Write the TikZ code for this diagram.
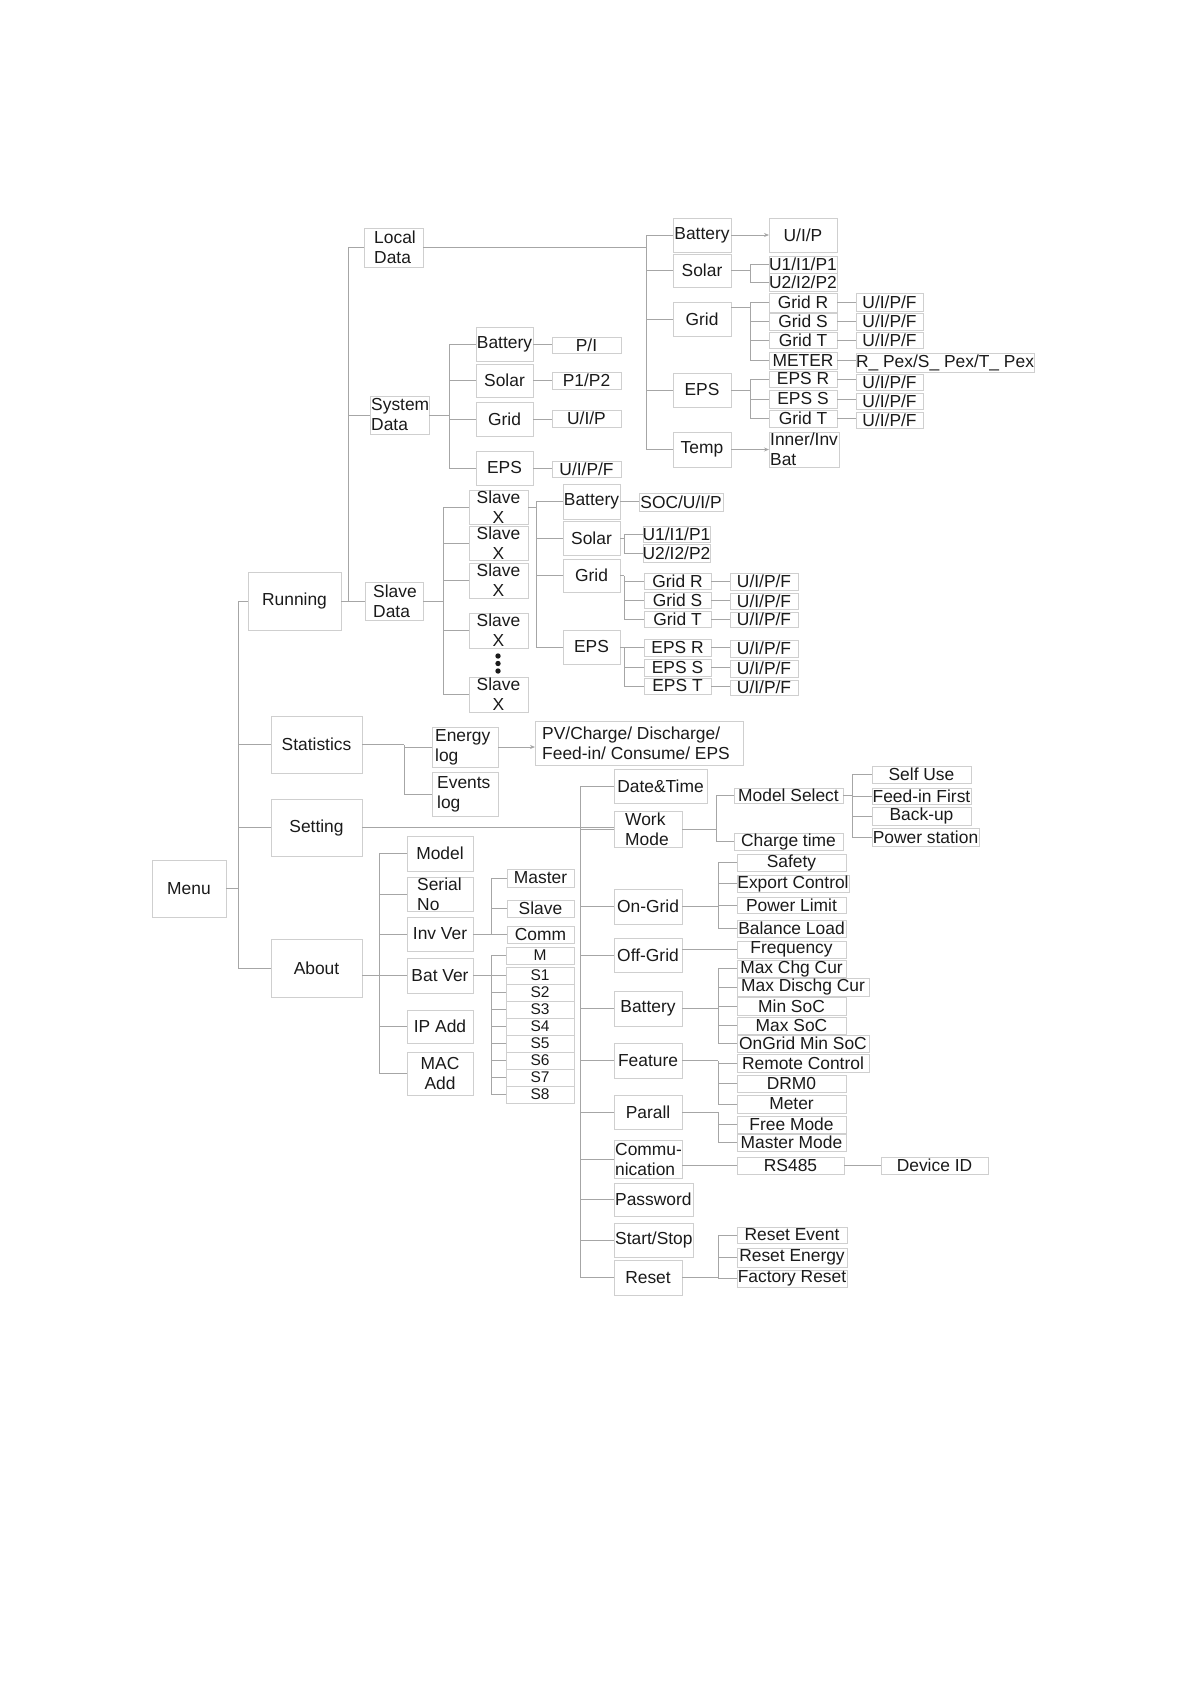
\documentclass[tikz,border=0pt]{standalone}
\usepackage{fontspec}
\setmainfont{Liberation Sans}
\usetikzlibrary{arrows.meta}
\definecolor{boxc}{HTML}{CFCFCF}
\definecolor{linec}{HTML}{A6A6A6}
\definecolor{txtc}{HTML}{1A1A1A}
\tikzset{
  boxst/.style={draw=boxc, line width=1pt, inner sep=0pt, outer sep=0pt},
  txt/.style={inner sep=0pt, text=txtc, font=\fontsize{17.4}{20}\selectfont},
  small/.style={font=\fontsize{15.5}{17}\selectfont},
  lft/.style={anchor=west, align=left, xshift={-0.5*\bxW+#1}},
  lft/.default=3pt,
  conn/.style={draw=linec, line width=1pt},
  arr/.style={conn, -{Stealth[length=5pt,width=4pt]}},
}
\newcommand\bx[7][]{%
  \pgfmathsetlengthmacro\bxW{#5pt-#3pt}%
  \pgfmathsetlengthmacro\bxH{#6pt-#4pt}%
  \node[boxst, minimum width=\bxW, minimum height=\bxH, anchor=north west] (#2) at (#3,#4) {};
  \node[txt, align=center, #1] (#2txt) at (#2.center) {#7};}
\newcommand\hl[2]{\draw[conn] (#1.east) -- (#1.east -| #2.west);}
\begin{document}
\begin{tikzpicture}[x=1pt, y=-1pt]
\useasboundingbox (0,0) rectangle (1191,1684);

% ---------- level 0/1
\bx{menu}{152}{860}{226}{917}{Menu}
\bx{run}{248}{572}{341}{630}{Running}
\bx{stat}{271}{716}{362}{773}{Statistics}
\bx{sett}{271}{799}{362}{856}{Setting}
\bx{about}{271}{939}{362}{997}{About}

% ---------- Running
\bx[lft=10pt]{locd}{364}{228}{423}{267}{Local\\Data}
\bx[lft=1pt]{sysd}{370}{396}{429}{434}{System\\Data}
\bx[lft=8pt]{slvd}{365}{582}{423}{620}{Slave\\Data}

% Local data
\bx{batL}{673}{218}{731}{252}{Battery}
\bx{solL}{673}{254}{731}{287}{Solar}
\bx{grdL}{673}{302}{731}{336}{Grid}
\bx{epsL}{673}{373}{731}{407}{EPS}
\bx{tmpL}{673}{432}{731}{467}{Temp}
\bx{uipL}{769}{218}{837}{252}{U/I/P}
\bx{uaL}{769}{256}{837}{273}{U1/I1/P1}
\bx{ubL}{769}{273}{837}{291}{U2/I2/P2}
\bx{grR}{769}{293}{837}{312}{Grid R}
\bx{grS}{769}{313}{837}{330}{Grid S}
\bx{grT}{769}{332}{837}{348}{Grid T}
\bx{mtr}{769}{352}{837}{369}{METER}
\bx{epR}{769}{371}{837}{387}{EPS R}
\bx{epS}{769}{390}{837}{408}{EPS S}
\bx{epT}{769}{410}{837}{427}{Grid T}
\bx{vR}{856}{293}{923}{311}{U/I/P/F}
\bx{vS}{856}{313}{923}{330}{U/I/P/F}
\bx{vT}{856}{332}{923}{348}{U/I/P/F}
\bx{pex}{856}{353}{1034}{372}{R\_ Pex/S\_ Pex/T\_ Pex}
\bx{veR}{856}{374}{923}{390}{U/I/P/F}
\bx{veS}{856}{393}{923}{409}{U/I/P/F}
\bx{veT}{856}{412}{923}{428}{U/I/P/F}
\bx[lft=1pt]{inn}{769}{432}{839}{467}{Inner/Inv\\Bat}

% System data
\bx{batSy}{476}{327}{533}{361}{Battery}
\bx{solSy}{476}{364}{533}{397}{Solar}
\bx{grdSy}{476}{402}{533}{436}{Grid}
\bx{epsSy}{476}{451}{533}{485}{EPS}
\bx{piSy}{552}{337}{621}{353}{P/I}
\bx{ppSy}{552}{372}{621}{389}{P1/P2}
\bx{uipSy}{552}{410}{621}{427}{U/I/P}
\bx{uipfSy}{552}{461}{621}{477}{U/I/P/F}

% Slave data
\bx{sxa}{469}{490}{528}{524}{Slave\\X}
\bx{sxb}{469}{526}{528}{560}{Slave\\X}
\bx{sxc}{469}{563}{528}{598}{Slave\\X}
\bx{sxd}{469}{613}{528}{648}{Slave\\X}
\bx{sxe}{469}{677}{528}{712}{Slave\\X}
\fill[txtc] (498,656) circle (2.7pt) (498,663.5) circle (2.7pt) (498,671) circle (2.7pt);
\bx{batX}{563}{484}{620}{519}{Battery}
\bx{solX}{563}{521}{620}{555}{Solar}
\bx{grdX}{563}{559}{620}{592}{Grid}
\bx{epsX}{563}{630}{620}{664}{EPS}
\bx{socX}{639}{493}{723}{511}{SOC/U/I/P}
\bx{uaX}{643}{526}{710}{542}{U1/I1/P1}
\bx{ubX}{643}{544}{710}{562}{U2/I2/P2}
\bx{gRX}{644}{573}{711}{589}{Grid R}
\bx{gSX}{644}{592}{711}{608}{Grid S}
\bx{gTX}{644}{611}{711}{627}{Grid T}
\bx{vgRX}{730}{573}{798}{590}{U/I/P/F}
\bx{vgSX}{730}{593}{798}{609}{U/I/P/F}
\bx{vgTX}{730}{612}{798}{627}{U/I/P/F}
\bx{eRX}{644}{639}{711}{656}{EPS R}
\bx{eSX}{644}{659}{711}{676}{EPS S}
\bx{eTX}{644}{678}{711}{694}{EPS T}
\bx{veRX}{730}{640}{798}{657}{U/I/P/F}
\bx{veSX}{730}{660}{798}{677}{U/I/P/F}
\bx{veTX}{730}{680}{798}{695}{U/I/P/F}

% ---------- Statistics
\bx[lft=3pt]{elog}{432}{727}{498}{767}{Energy\\log}
\bx[lft=5pt]{evlog}{432}{772}{498}{816}{Events\\log}
\bx[lft=7pt]{pv}{535}{721}{743}{765}{PV/Charge/ Discharge/\\Feed-in/ Consume/ EPS}

% ---------- Setting
\bx{dt}{614}{769}{707}{803}{Date\&Time}
\bx[lft=11pt]{wm}{614}{811}{682}{847}{Work\\Mode}
\bx{msel}{734}{788}{843}{803}{Model Select}
\bx{ctime}{734}{833}{843}{850}{Charge time}
\bx{selfu}{872}{766}{971}{783}{Self Use}
\bx{feedin}{872}{788}{971}{804}{Feed-in First}
\bx{backup}{872}{807}{971}{825}{Back-up}
\bx{pstat}{872}{828}{979}{846}{Power station}
\bx{ong}{614}{889}{682}{924}{On-Grid}
\bx{offg}{614}{938}{682}{972}{Off-Grid}
\bx{batSt}{614}{991}{682}{1026}{Battery}
\bx{feat}{614}{1043}{682}{1078}{Feature}
\bx{par}{614}{1095}{682}{1129}{Parall}
\bx[lft=1pt]{comm}{614}{1140}{682}{1178}{Commu-\\nication}
\bx[lft=1pt]{pwd}{614}{1183}{693}{1216}{Password}
\bx[lft=1pt]{ss}{614}{1223}{693}{1257}{Start/Stop}
\bx{rst}{614}{1260}{682}{1295}{Reset}
\bx{safe}{737}{854}{846}{871}{Safety}
\bx{expc}{737}{875}{849}{892}{Export Control}
\bx{plim}{737}{897}{846}{913}{Power Limit}
\bx{bload}{737}{920}{846}{937}{Balance Load}
\bx{freq}{737}{941}{846}{958}{Frequency}
\bx{mchg}{737}{960}{846}{977}{Max Chg Cur}
\bx{mdis}{737}{978}{869}{996}{Max Dischg Cur}
\bx{minsoc}{737}{997}{846}{1015}{Min SoC}
\bx{maxsoc}{737}{1017}{846}{1034}{Max SoC}
\bx{ongmin}{737}{1035}{869}{1052}{OnGrid Min SoC}
\bx{remc}{737}{1054}{869}{1072}{Remote Control}
\bx{drm}{737}{1075}{846}{1092}{DRM0}
\bx{mtrS}{737}{1095}{846}{1113}{Meter}
\bx{freem}{737}{1116}{846}{1133}{Free Mode}
\bx{mastm}{737}{1134}{846}{1151}{Master Mode}
\bx{rsf}{737}{1157}{844}{1174}{RS485}
\bx{devid}{881}{1157}{988}{1174}{Device ID}
\bx{revent}{737}{1227}{847}{1243}{Reset Event}
\bx{renergy}{737}{1248}{847}{1267}{Reset Energy}
\bx{freset}{737}{1270}{847}{1287}{Factory Reset}

% ---------- About
\bx{model}{407}{836}{473}{871}{Model}
\bx[lft=10pt]{serial}{407}{877}{473}{911}{Serial\\No}
\bx{invv}{407}{917}{473}{951}{Inv Ver}
\bx{batv}{407}{958}{473}{993}{Bat Ver}
\bx{ipa}{407}{1010}{473}{1043}{IP Add}
\bx{maca}{407}{1052}{473}{1095}{MAC\\Add}
\bx{mast}{507}{869}{574}{887}{Master}
\bx{slv}{507}{900}{574}{917}{Slave}
\bx{commv}{507}{926}{574}{943}{Comm}
\bx[small]{bM}{506}{947}{574}{964}{M}
\bx[small]{sA}{506}{967}{574}{984}{S1}
\bx[small]{sB}{506}{984}{574}{1001}{S2}
\bx[small]{sC}{506}{1001}{574}{1018}{S3}
\bx[small]{sD}{506}{1018}{574}{1035}{S4}
\bx[small]{sE}{506}{1035}{574}{1052}{S5}
\bx[small]{sF}{506}{1052}{574}{1069}{S6}
\bx[small]{sG}{506}{1069}{574}{1086}{S7}
\bx[small]{sH}{506}{1086}{574}{1103}{S8}

% ================= connectors
% Menu
\coordinate (jM) at (238,888.5);
\draw[conn] (menu.east) -- (jM);
\foreach \n in {run,stat,sett,about} \draw[conn] (\n.west) -| (jM);

% Running
\coordinate (jR) at (348,601);
\draw[conn] (run.east) -- (slvd.west);
\foreach \n in {locd,sysd} \draw[conn] (\n.west) -| (jR);

% Local data
\coordinate (jL) at (646,247.5);
\draw[conn] (locd.east) -- (jL);
\foreach \n in {batL,solL,grdL,epsL,tmpL} \draw[conn] (\n.west) -| (jL);
\draw[arr] (batL.east) -- (uipL.west);
\coordinate (jLs) at (750,270.5);
\draw[conn] (solL.east) -- (jLs);
\foreach \n in {uaL,ubL} \draw[conn] (\n.west) -| (jLs);
\coordinate (jLg) at (750,307);
\draw[conn] (grdL.east |- jLg) -- (jLg);
\foreach \n in {grR,grS,grT,mtr} \draw[conn] (\n.west) -| (jLg);
\hl{grR}{vR}\hl{grS}{vS}\hl{grT}{vT}\hl{mtr}{pex}
\coordinate (jLe) at (750,390);
\draw[conn] (epsL.east) -- (jLe);
\foreach \n in {epR,epS,epT} \draw[conn] (\n.west) -| (jLe);
\hl{epR}{veR}\hl{epS}{veS}\hl{epT}{veT}
\draw[arr] (tmpL.east) -- (inn.west);

% System data
\coordinate (jS) at (449,415);
\draw[conn] (sysd.east) -- (jS);
\foreach \n in {batSy,solSy,grdSy,epsSy} \draw[conn] (\n.west) -| (jS);
\hl{batSy}{piSy}\hl{solSy}{ppSy}\hl{grdSy}{uipSy}\hl{epsSy}{uipfSy}

% Slave data
\coordinate (jX) at (443,601);
\draw[conn] (slvd.east) -- (jX);
\foreach \n in {sxa,sxb,sxc,sxd,sxe} \draw[conn] (\n.west) -| (jX);
\coordinate (jXa) at (536,507);
\draw[conn] (sxa.east) -- (jXa);
\foreach \n in {batX,solX,grdX,epsX} \draw[conn] (\n.west) -| (jXa);
\hl{batX}{socX}
\coordinate (jXs) at (624,538);
\draw[conn] (solX.east) -- (jXs);
\foreach \n in {uaX,ubX} \draw[conn] (\n.west) -| (jXs);
\coordinate (jXg) at (624,575.5);
\draw[conn] (grdX.east) -- (jXg);
\foreach \n in {gRX,gSX,gTX} \draw[conn] (\n.west) -| (jXg);
\hl{gRX}{vgRX}\hl{gSX}{vgSX}\hl{gTX}{vgTX}
\coordinate (jXe) at (624,647);
\draw[conn] (epsX.east) -- (jXe);
\foreach \n in {eRX,eSX,eTX} \draw[conn] (\n.west) -| (jXe);
\hl{eRX}{veRX}\hl{eSX}{veSX}\hl{eTX}{veTX}

% Statistics
\coordinate (jT) at (404,744.5);
\draw[conn] (stat.east) -- (jT);
\foreach \n in {elog,evlog} \draw[conn] (\n.west) -| (jT);
\draw[arr] (elog.east) -- (elog.east -| pv.west);

% Setting
\coordinate (jE) at (580,828);
\draw[conn] (sett.east) -- (sett.east -| wm.west);
\foreach \n in {dt,wm,ong,offg,batSt,feat,par,comm,pwd,ss,rst} \draw[conn] (\n.west) -| (jE);
\coordinate (jW) at (716,829);
\draw[conn] (wm.east) -- (jW);
\foreach \n in {msel,ctime} \draw[conn] (\n.west) -| (jW);
\coordinate (jMs) at (852,795.5);
\draw[conn] (msel.east) -- (jMs);
\foreach \n in {selfu,feedin,backup,pstat} \draw[conn] (\n.west) -| (jMs);
\coordinate (jO) at (718,906.5);
\draw[conn] (ong.east) -- (jO);
\foreach \n in {safe,expc,plim,bload} \draw[conn] (\n.west) -| (jO);
\draw[conn] (freq.west -| offg.east) -- (freq.west);
\coordinate (jB) at (718,1008.5);
\draw[conn] (batSt.east) -- (jB);
\foreach \n in {mchg,mdis,minsoc,maxsoc,ongmin} \draw[conn] (\n.west) -| (jB);
\coordinate (jF) at (718,1060.5);
\draw[conn] (feat.east) -- (jF);
\foreach \n in {remc,drm,mtrS} \draw[conn] (\n.west) -| (jF);
\coordinate (jP) at (718,1112);
\draw[conn] (par.east) -- (jP);
\foreach \n in {freem,mastm} \draw[conn] (\n.west) -| (jP);
\draw[conn] (rsf.west -| comm.east) -- (rsf.west);
\hl{rsf}{devid}
\coordinate (jRs) at (718,1277.5);
\draw[conn] (rst.east) -- (jRs);
\foreach \n in {revent,renergy,freset} \draw[conn] (\n.west) -| (jRs);

% About
\coordinate (jA) at (379,975.5);
\draw[conn] (batv.west -| about.east) -- (batv.west);
\foreach \n in {model,serial,invv,batv,ipa,maca} \draw[conn] (\n.west) -| (jA);
\coordinate (jI) at (491,934);
\draw[conn] (invv.east) -- (jI);
\foreach \n in {mast,slv,commv} \draw[conn] (\n.west) -| (jI);
\coordinate (jBv) at (491,975.5);
\draw[conn] (batv.east) -- (jBv);
\foreach \n in {bM,sA,sB,sC,sD,sE,sF,sG,sH} \draw[conn] (\n.west) -| (jBv);
\end{tikzpicture}
\end{document}
